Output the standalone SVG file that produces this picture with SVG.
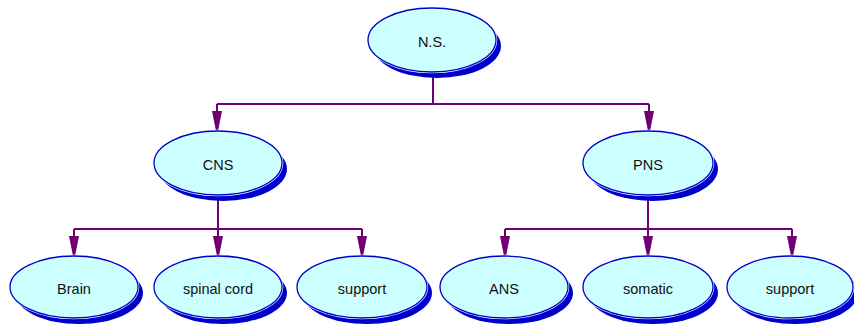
<svg xmlns="http://www.w3.org/2000/svg" width="854" height="327" viewBox="0 0 854 327">
<style>
.sh{fill:#0000cc;stroke:none}
.gap{fill:#ffffff;stroke:#ffffff;stroke-width:2.5}
.el{fill:#ccffff;stroke:#0000cc;stroke-width:1.3}
.lb{font-family:"Liberation Sans",Arial,sans-serif;font-size:14.5px;fill:#111111;text-anchor:middle;dominant-baseline:central}
.cn{fill:none;stroke:#700070;stroke-width:2}
</style>
<defs>
<marker id="ah" viewBox="0 0 20 10" refX="20" refY="5" markerWidth="20" markerHeight="10" markerUnits="userSpaceOnUse" orient="auto">
<path d="M0,0 L20,4 L20,6 L0,10 z" fill="#700070"/>
</marker>
</defs>
<g id="connectors">
<path class="cn" d="M433,72 V104 M217,104 H649"/>
<path class="cn" d="M217,104 V131" marker-end="url(#ah)"/>
<path class="cn" d="M649,104 V131" marker-end="url(#ah)"/>
<path class="cn" d="M218,196 V229 M74,229 H362"/>
<path class="cn" d="M74,229 V256" marker-end="url(#ah)"/>
<path class="cn" d="M218,229 V256" marker-end="url(#ah)"/>
<path class="cn" d="M362,229 V256" marker-end="url(#ah)"/>
<path class="cn" d="M648,196 V229 M505,229 H792"/>
<path class="cn" d="M505,229 V256" marker-end="url(#ah)"/>
<path class="cn" d="M648,229 V256" marker-end="url(#ah)"/>
<path class="cn" d="M792,229 V256" marker-end="url(#ah)"/>
</g>
<g id="ns">
<ellipse class="sh" cx="437" cy="46" rx="64" ry="32"/>
<ellipse class="gap" cx="432" cy="40" rx="64" ry="32"/>
<ellipse class="el" cx="432" cy="40" rx="64" ry="32"/>
<text class="lb" x="432" y="42">N.S.</text>
</g>
<g id="cns">
<ellipse class="sh" cx="223" cy="169" rx="64" ry="32"/>
<ellipse class="gap" cx="218" cy="163" rx="64" ry="32"/>
<ellipse class="el" cx="218" cy="163" rx="64" ry="32"/>
<text class="lb" x="218" y="165">CNS</text>
</g>
<g id="pns">
<ellipse class="sh" cx="653" cy="169" rx="65" ry="32"/>
<ellipse class="gap" cx="648" cy="163" rx="65" ry="32"/>
<ellipse class="el" cx="648" cy="163" rx="65" ry="32"/>
<text class="lb" x="648" y="165">PNS</text>
</g>
<g id="brain">
<ellipse class="sh" cx="79" cy="293" rx="64" ry="31"/>
<ellipse class="gap" cx="74" cy="287" rx="64" ry="31"/>
<ellipse class="el" cx="74" cy="287" rx="64" ry="31"/>
<text class="lb" x="74" y="289">Brain</text>
</g>
<g id="spinal">
<ellipse class="sh" cx="223" cy="293" rx="64" ry="31"/>
<ellipse class="gap" cx="218" cy="287" rx="64" ry="31"/>
<ellipse class="el" cx="218" cy="287" rx="64" ry="31"/>
<text class="lb" x="218" y="289">spinal cord</text>
</g>
<g id="support1">
<ellipse class="sh" cx="367" cy="293" rx="65" ry="31"/>
<ellipse class="gap" cx="362" cy="287" rx="65" ry="31"/>
<ellipse class="el" cx="362" cy="287" rx="65" ry="31"/>
<text class="lb" x="362" y="289">support</text>
</g>
<g id="ans">
<ellipse class="sh" cx="509" cy="293" rx="64" ry="31"/>
<ellipse class="gap" cx="504" cy="287" rx="64" ry="31"/>
<ellipse class="el" cx="504" cy="287" rx="64" ry="31"/>
<text class="lb" x="504" y="289">ANS</text>
</g>
<g id="somatic">
<ellipse class="sh" cx="653" cy="293" rx="65" ry="31"/>
<ellipse class="gap" cx="648" cy="287" rx="65" ry="31"/>
<ellipse class="el" cx="648" cy="287" rx="65" ry="31"/>
<text class="lb" x="648" y="289">somatic</text>
</g>
<g id="support2">
<ellipse class="sh" cx="795" cy="293" rx="63" ry="31"/>
<ellipse class="gap" cx="790" cy="287" rx="63" ry="31"/>
<ellipse class="el" cx="790" cy="287" rx="63" ry="31"/>
<text class="lb" x="790" y="289">support</text>
</g>
</svg>
